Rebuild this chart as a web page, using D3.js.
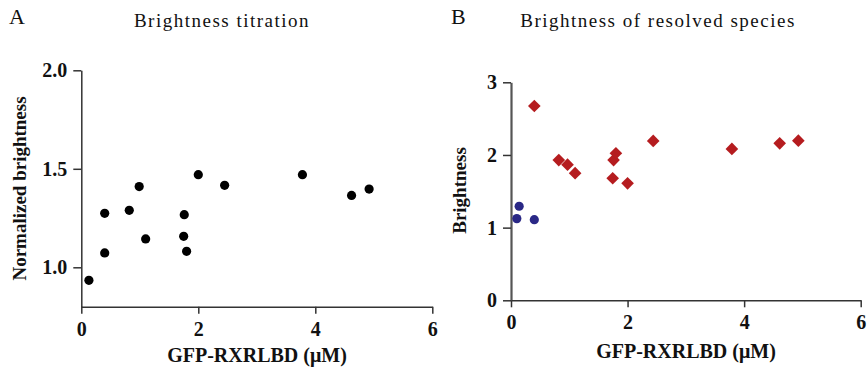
<!DOCTYPE html>
<html>
<head>
<meta charset="utf-8">
<script src="https://cdn.jsdelivr.net/npm/d3@7"></script>
<style>
  body { margin: 0; background: #fff; }
  svg { display: block; font-family: "Liberation Serif", "Times New Roman", serif; }
</style>
</head>
<body>
<svg id="chart" width="868" height="367"></svg>
<script>
// 資料：A 圖 (亮度滴定)
const titrationX = [0.13, 0.40, 0.40, 0.82, 0.99, 1.10, 1.76, 1.75, 1.80, 2.00, 2.45, 3.78, 4.62, 4.92];
const titrationY = [0.934, 1.274, 1.073, 1.289, 1.41, 1.144, 1.267, 1.157, 1.081, 1.47, 1.416, 1.47, 1.365, 1.397];

// B 圖：紅色菱形 (高亮度物種)
const highX = [0.40, 0.82, 0.97, 1.10, 1.745, 1.76, 1.80, 2.00, 2.44, 3.79, 4.61, 4.93];
const highY = [2.674, 1.93, 1.867, 1.75, 1.68, 1.93, 2.023, 1.61, 2.193, 2.083, 2.16, 2.197];
// B 圖：藍色圓點 (單體)
const lowX = [0.10, 0.14, 0.40];
const lowY = [1.124, 1.294, 1.11];

const xTicks = [0, 2, 4, 6];
const yTicksA = [1.0, 1.5, 2.0];
const yTicksB = [0, 1, 2, 3];

const svg = d3.select('#chart');

// --- 共用：畫軸 ---
function drawAxes(g, x, y, xt, yt, yFmt) {
    const yAxis = g.append('g')
        .attr('transform', `translate(${x.range()[0]},0)`)
        .call(d3.axisLeft(y).tickValues(yt).tickFormat(yFmt).tickSize(8).tickSizeOuter(0).tickPadding(6));
    const xAxis = g.append('g')
        .attr('transform', `translate(0,${y.range()[0]})`)
        .call(d3.axisBottom(x).tickValues(xt).tickFormat(d3.format('d')).tickSize(7).tickSizeOuter(0).tickPadding(8));

    [xAxis, yAxis].forEach(a => {
        a.attr('font-family', '"Liberation Serif", "Times New Roman", serif');
        a.select('.domain').attr('stroke', '#333').attr('stroke-width', 1.5);
        a.selectAll('.tick line').attr('stroke', '#333').attr('stroke-width', 1.5);
        a.selectAll('.tick text')
            .attr('fill', '#111')
            .attr('font-weight', 'bold')
            .attr('font-size', 20);
    });
    return { xAxis, yAxis };
}

// --- A: Brightness titration ---
const xA = d3.scaleLinear().domain([0, 6]).range([81.3, 432.3]);
const yA = d3.scaleLinear().domain([0.8, 2.0]).range([306.7, 70.3]);
const gA = svg.append('g');
drawAxes(gA, xA, yA, xTicks, yTicksA, d3.format('.1f'));

gA.selectAll('circle.pt')
    .data(titrationX.map((d, i) => [d, titrationY[i]]))
    .enter().append('circle')
    .attr('class', 'pt')
    .attr('cx', d => xA(d[0]))
    .attr('cy', d => yA(d[1]))
    .attr('r', 4.6)
    .attr('fill', '#000');

// --- B: Brightness of resolved species ---
const xB = d3.scaleLinear().domain([0, 6]).range([511, 860.7]);
const yB = d3.scaleLinear().domain([0, 3]).range([300.3, 82.3]);
const gB = svg.append('g');
const axB = drawAxes(gB, xB, yB, xTicks, yTicksB, d3.format('d'));
axB.yAxis.select('.domain').attr('stroke', '#555').attr('stroke-width', 2.2);

gB.selectAll('path.hi')
    .data(highX.map((d, i) => [d, highY[i]]))
    .enter().append('path')
    .attr('class', 'hi')
    .attr('d', d3.symbol().type(d3.symbolSquare).size(80))
    .attr('transform', d => `translate(${xB(d[0])},${yB(d[1])}) rotate(45)`)
    .attr('fill', '#b51c1f');

gB.selectAll('circle.lo')
    .data(lowX.map((d, i) => [d, lowY[i]]))
    .enter().append('circle')
    .attr('class', 'lo')
    .attr('cx', d => xB(d[0]))
    .attr('cy', d => yB(d[1]))
    .attr('r', 4.6)
    .attr('fill', '#2a2886');

// --- 文字 ---
const txt = (x, y, s, opts = {}) => svg.append('text')
    .attr('x', x).attr('y', y)
    .attr('text-anchor', opts.anchor || 'middle')
    .attr('transform', opts.rotate ? `rotate(-90,${x},${y})` : null)
    .style('font-size', (opts.size || 18) + 'px')
    .style('font-weight', opts.bold ? 'bold' : 'normal')
    .style('letter-spacing', opts.ls ? opts.ls + 'px' : null)
    .attr('fill', '#111')
    .text(s);

txt(9, 24, 'A', { anchor: 'start', size: 22 });
txt(451, 24, 'B', { anchor: 'start', size: 22 });
txt(222, 26.5, 'Brightness titration', { size: 19, ls: 1.5 });
txt(658, 26.5, 'Brightness of resolved species', { size: 19, ls: 1.5 });

txt(257, 361.5, 'GFP-RXRLBD (\u03BCM)', { size: 20, bold: true });
txt(686, 358, 'GFP-RXRLBD (\u03BCM)', { size: 20, bold: true });
txt(25.5, 188.5, 'Normalized brightness', { size: 19, bold: true, rotate: true });
txt(466, 190.5, 'Brightness', { size: 19, bold: true, rotate: true });
</script>
</body>
</html>
